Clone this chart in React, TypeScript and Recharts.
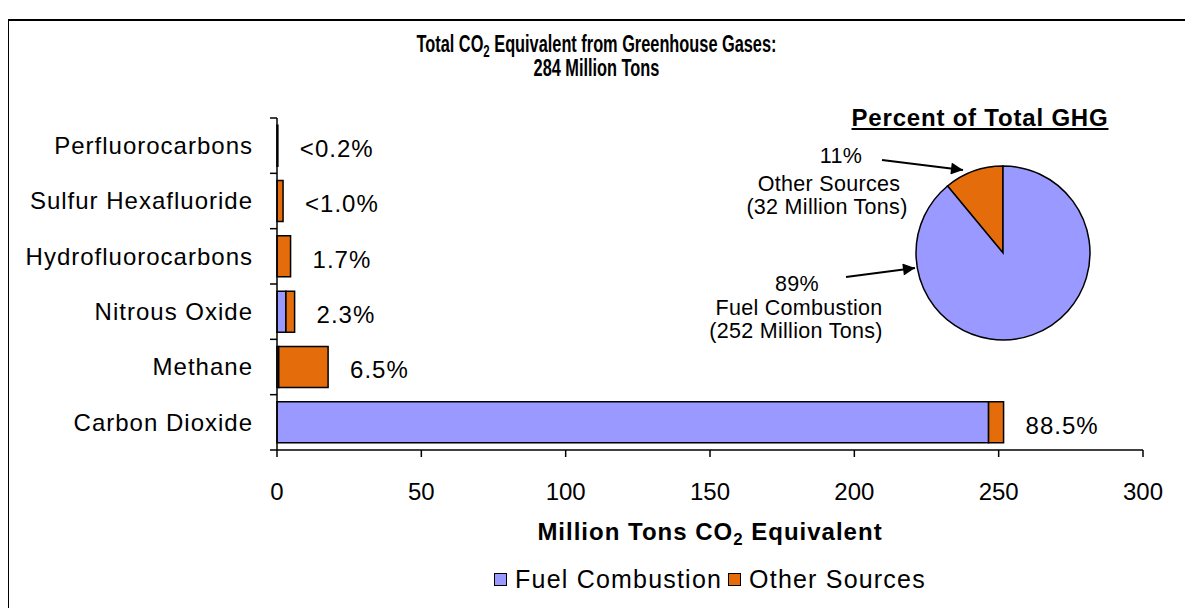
import React from 'react';
import { BarChart, Bar, XAxis, YAxis, LabelList, PieChart, Pie, Cell } from 'recharts';

// Million tons CO2 equivalent
const gases = [
  'Perfluorocarbons',
  'Sulfur Hexafluoride',
  'Hydrofluorocarbons',
  'Nitrous Oxide',
  'Methane',
  'Carbon Dioxide',
];
const fuelCombustion = [0, 0, 0, 3.1, 0.6, 246.5];
const otherSources = [0.3, 2.1, 4.7, 3.0, 17.1, 5.2];
const shareLabels = ['<0.2%', '<1.0%', '1.7%', '2.3%', '6.5%', '88.5%'];
const xTicks = [0, 50, 100, 150, 200, 250, 300];

// pie: percent of total GHG
const pieNames = ['Other Sources', 'Fuel Combustion'];
const pieShares = [11, 89];

const FUEL = '#9999FF';
const OTHER = '#E46C0A';
const FONT = "'Liberation Sans', Arial, sans-serif";

const W = 1193;
const H = 608;
const PLOT_LEFT = 277;
const PLOT_RIGHT = 1143;
const PLOT_TOP = 118;
const PLOT_BOTTOM = 450;
const BAND = (PLOT_BOTTOM - PLOT_TOP) / gases.length;

const barData = gases.map((g, i) => ({
  gas: g,
  fuel: fuelCombustion[i],
  other: otherSources[i],
  share: shareLabels[i],
}));

const pieData = pieNames.map((n, i) => ({ name: n, value: pieShares[i] }));
const pieColors = [OTHER, FUEL];

const GasTick = (props: any) => {
  const { x, y, payload, index } = props;
  const ty = Number(y);
  return (
    <g>
      <line x1={PLOT_LEFT - 7} x2={PLOT_LEFT} y1={ty - BAND / 2} y2={ty - BAND / 2} stroke="#000" strokeWidth={1.5} />
      {index === gases.length - 1 && (
        <line x1={PLOT_LEFT - 7} x2={PLOT_LEFT} y1={ty + BAND / 2} y2={ty + BAND / 2} stroke="#000" strokeWidth={1.5} />
      )}
      <text
        x={x}
        y={ty}
        dy="0.35em"
        textAnchor="end"
        fontSize={24}
        letterSpacing={1}
        fontFamily={FONT}
        fill="#000"
      >
        {payload.value}
      </text>
    </g>
  );
};

const ShareLabel = (props: any) => {
  const { x, y, width, height, value } = props;
  return (
    <text
      x={Number(x) + Number(width) + 22}
      y={Number(y) + Number(height) / 2 + 3}
      dy="0.35em"
      fontSize={24}
      letterSpacing={1}
      fontFamily={FONT}
      fill="#000"
    >
      {value}
    </text>
  );
};

// subscript that does not grow the line box
const sub = { fontSize: '0.7em', position: 'relative', top: '0.3em' } as React.CSSProperties;

const annText = (x: number, y: number, s: string) => (
  <text x={x} y={y} dy="0.35em" textAnchor="middle" fontSize={21.5} letterSpacing={0.3} fontFamily={FONT} fill="#000">
    {s}
  </text>
);

export default function App() {
  return (
    <div
      style={{
        position: 'relative',
        width: W,
        height: H,
        marginLeft: -8,
        marginTop: -8,
        overflow: 'hidden',
        background: '#fff',
        fontFamily: FONT,
      }}
    >
      <div
        style={{
          position: 'absolute',
          left: 7,
          top: 19,
          width: W + 20,
          height: H + 20,
          border: '2px solid #000',
          boxSizing: 'border-box',
        }}
      />

      <div
        style={{
          position: 'absolute',
          left: 0,
          top: 32,
          width: W,
          textAlign: 'center',
        }}
      >
        <div
          style={{
            display: 'inline-block',
            fontWeight: 'bold',
            fontSize: 23,
            lineHeight: '24px',
            transform: 'scaleX(0.71)',
            transformOrigin: 'center top',
          }}
        >
          <div style={{ height: 24 }}>
            Total CO<span style={sub}>2</span> Equivalent from Greenhouse Gases:
          </div>
          <div style={{ height: 24 }}>284 Million Tons</div>
        </div>
      </div>

      <div style={{ position: 'absolute', left: 0, top: 0 }}>
        <BarChart
          width={W}
          height={H}
          layout="vertical"
          data={barData}
          barCategoryGap="13%"
          margin={{ top: PLOT_TOP, right: W - PLOT_RIGHT, left: PLOT_LEFT - 270, bottom: H - PLOT_BOTTOM - 60 }}
        >
          <XAxis
            type="number"
            domain={[0, 300]}
            ticks={xTicks}
            height={60}
            tickSize={7}
            tickMargin={26}
            axisLine={{ stroke: '#000', strokeWidth: 1.5 }}
            tickLine={{ stroke: '#000', strokeWidth: 1.5 }}
            tick={{ fontSize: 24, fill: '#000', fontFamily: FONT }}
          />
          <YAxis
            type="category"
            dataKey="gas"
            width={270}
            tickSize={0}
            tickMargin={24}
            tickLine={false}
            axisLine={{ stroke: '#000', strokeWidth: 1.5 }}
            tick={<GasTick />}
            interval={0}
          />
          <Bar dataKey="fuel" stackId="a" fill={FUEL} stroke="#000" strokeWidth={1.5} isAnimationActive={false} />
          <Bar dataKey="other" stackId="a" fill={OTHER} stroke="#000" strokeWidth={1.5} isAnimationActive={false}>
            <LabelList dataKey="share" content={<ShareLabel />} />
          </Bar>
        </BarChart>
      </div>

      <div
        style={{
          position: 'absolute',
          left: PLOT_LEFT,
          width: PLOT_RIGHT - PLOT_LEFT,
          top: 518,
          textAlign: 'center',
          fontWeight: 'bold',
          fontSize: 24,
          lineHeight: '28px',
          letterSpacing: 1,
        }}
      >
        Million Tons CO<span style={sub}>2</span> Equivalent
      </div>

      <div
        style={{
          position: 'absolute',
          left: PLOT_LEFT,
          width: PLOT_RIGHT - PLOT_LEFT,
          top: 565,
          display: 'flex',
          justifyContent: 'center',
          alignItems: 'center',
          fontSize: 25,
          lineHeight: '28px',
          letterSpacing: 1.2,
        }}
      >
        {pieNames
          .slice()
          .reverse()
          .map((n, i) => (
            <span key={n} style={{ display: 'flex', alignItems: 'center', marginRight: i === 0 ? 6 : 0 }}>
              <span
                style={{
                  display: 'inline-block',
                  width: 11,
                  height: 11,
                  background: i === 0 ? FUEL : OTHER,
                  border: '1.5px solid #000',
                  marginRight: 8,
                }}
              />
              {n}
            </span>
          ))}
      </div>

      <div
        style={{
          position: 'absolute',
          left: 848,
          width: 264,
          top: 104,
          textAlign: 'center',
          fontWeight: 'bold',
          fontSize: 24,
          lineHeight: '28px',
          letterSpacing: 0.8,
          textDecoration: 'underline',
        }}
      >
        Percent of Total GHG
      </div>

      <div style={{ position: 'absolute', left: 903, top: 153 }}>
        <PieChart width={200} height={200} margin={{ top: 0, right: 0, bottom: 0, left: 0 }}>
          <Pie
            data={pieData}
            dataKey="value"
            nameKey="name"
            cx={100}
            cy={100}
            outerRadius={87}
            startAngle={90}
            endAngle={450}
            stroke="#000"
            strokeWidth={1.5}
            isAnimationActive={false}
          >
            {pieData.map((d, i) => (
              <Cell key={d.name} fill={pieColors[i]} />
            ))}
          </Pie>
        </PieChart>
      </div>

      <svg width={W} height={H} style={{ position: 'absolute', left: 0, top: 0, pointerEvents: 'none' }}>
        <defs>
          <marker id="head" viewBox="0 0 10 10" refX="10" refY="5" markerWidth="7" markerHeight="6" orient="auto">
            <path d="M0,0 L10,5 L0,10 z" fill="#000" />
          </marker>
        </defs>
        <line x1={882} y1={160} x2={963} y2={170} stroke="#000" strokeWidth={2} markerEnd="url(#head)" />
        <line x1={846} y1={277} x2={915} y2={268} stroke="#000" strokeWidth={2} markerEnd="url(#head)" />
        {annText(841, 155, `${pieShares[0]}%`)}
        {annText(829, 183, pieNames[0])}
        {annText(827, 206, '(32 Million Tons)')}
        {annText(797, 283, `${pieShares[1]}%`)}
        {annText(799, 307, pieNames[1])}
        {annText(796, 330, '(252 Million Tons)')}
      </svg>
    </div>
  );
}
